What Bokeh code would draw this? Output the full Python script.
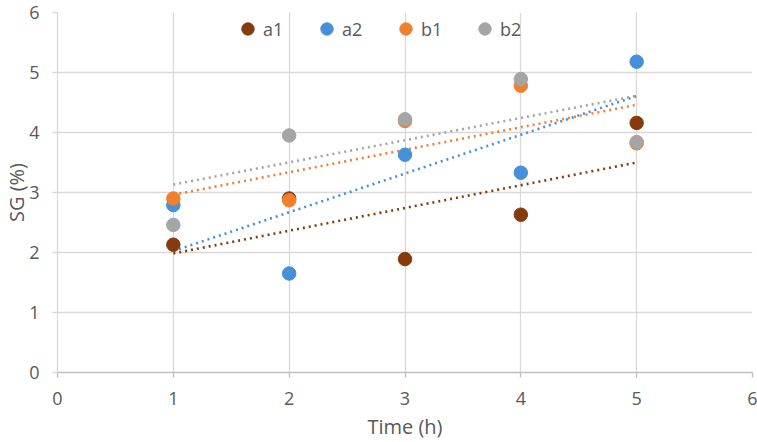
import numpy as np
from bokeh.plotting import figure
from bokeh.models import Legend, LegendItem, FixedTicker, ColumnDataSource
from bokeh.embed import file_html
from bokeh.resources import INLINE

# ---- data ----
time_h = [1, 2, 3, 4, 5]
a1 = [2.13, 2.90, 1.89, 2.63, 4.16]
a2 = [2.79, 1.65, 3.63, 3.33, 5.18]
b1 = [2.90, 2.87, 4.19, 4.78, 3.82]
b2 = [2.46, 3.95, 4.22, 4.89, 3.84]
series_names = ["a1", "a2", "b1", "b2"]
series_values = [a1, a2, b1, b2]
x_ticks = [0, 1, 2, 3, 4, 5, 6]
y_ticks = [0, 1, 2, 3, 4, 5, 6]

colors = ["#843C0C", "#4590D8", "#F07F2E", "#A5A5A5"]
FONT = "Open Sans"
TXT = "#595959"

p = figure(width=757, height=442, x_range=(0, 6), y_range=(0, 6),
           output_backend="svg", toolbar_location=None,
           min_border_left=57, min_border_right=5, min_border_top=12,
           min_border_bottom=70)
p.outline_line_color = None
p.background_fill_color = "white"
p.border_fill_color = "white"

# grid
for g in (p.xgrid, p.ygrid):
    g.grid_line_color = "#D9D9D9"
    g.grid_line_width = 1.3
p.xgrid.ticker = FixedTicker(ticks=x_ticks)
p.ygrid.ticker = FixedTicker(ticks=y_ticks)

# axes
xa = p.xaxis[0]
xa.ticker = FixedTicker(ticks=x_ticks)
xa.axis_line_color = "#BFBFBF"
xa.axis_line_width = 1.3
xa.major_tick_line_color = "#BFBFBF"
xa.major_tick_line_width = 1.3
xa.major_tick_out = 5
xa.major_tick_in = 0
xa.minor_tick_line_color = None
xa.major_label_text_font = FONT
xa.major_label_text_font_size = "18px"
xa.major_label_text_color = TXT
xa.major_label_standoff = 14
xa.axis_label = "Time (h)"
xa.axis_label_text_font = FONT
xa.axis_label_text_font_size = "20px"
xa.axis_label_text_font_style = "normal"
xa.axis_label_text_color = TXT
xa.axis_label_standoff = 5

ya = p.yaxis[0]
ya.ticker = FixedTicker(ticks=y_ticks)
ya.axis_line_color = "#D9D9D9"
ya.axis_line_width = 1.3
ya.major_tick_line_color = "#D9D9D9"
ya.major_tick_line_width = 1.3
ya.major_tick_out = 5
ya.major_tick_in = 0
ya.minor_tick_line_color = None
ya.major_label_text_font = FONT
ya.major_label_text_font_size = "18px"
ya.major_label_text_color = TXT
ya.major_label_standoff = 13
ya.axis_label = "SG (%)"
ya.axis_label_text_font = FONT
ya.axis_label_text_font_size = "20px"
ya.axis_label_text_font_style = "normal"
ya.axis_label_text_color = TXT
ya.axis_label_standoff = -4

# trendlines (linear least squares, like Excel)
xs = np.array(time_h, dtype=float)
x_line = np.array([min(time_h), max(time_h)], dtype=float)
for vals, c in zip(series_values, colors):
    k, b = np.polyfit(xs, np.array(vals), 1)
    p.line(x_line, k * x_line + b, line_color=c, line_width=2.6,
           line_dash="2 4", line_cap="butt")

# markers
items = []
for name, vals, c in zip(series_names, series_values, colors):
    src = ColumnDataSource(dict(x=time_h, y=vals))
    r = p.scatter("x", "y", source=src, size=13.5, fill_color=c,
                  line_color=c, line_width=1)
    items.append(LegendItem(label=name, renderers=[r]))

legend = Legend(items=items, orientation="horizontal", location=(175, 328),
                glyph_width=31, glyph_height=31, label_standoff=0,
                label_width=30, spacing=18, padding=0, margin=0,
                border_line_color=None, background_fill_alpha=0,
                label_text_font=FONT, label_text_font_size="18px",
                label_text_color=TXT)
p.add_layout(legend, "center")

open("out.html", "w").write(file_html(p, INLINE))
